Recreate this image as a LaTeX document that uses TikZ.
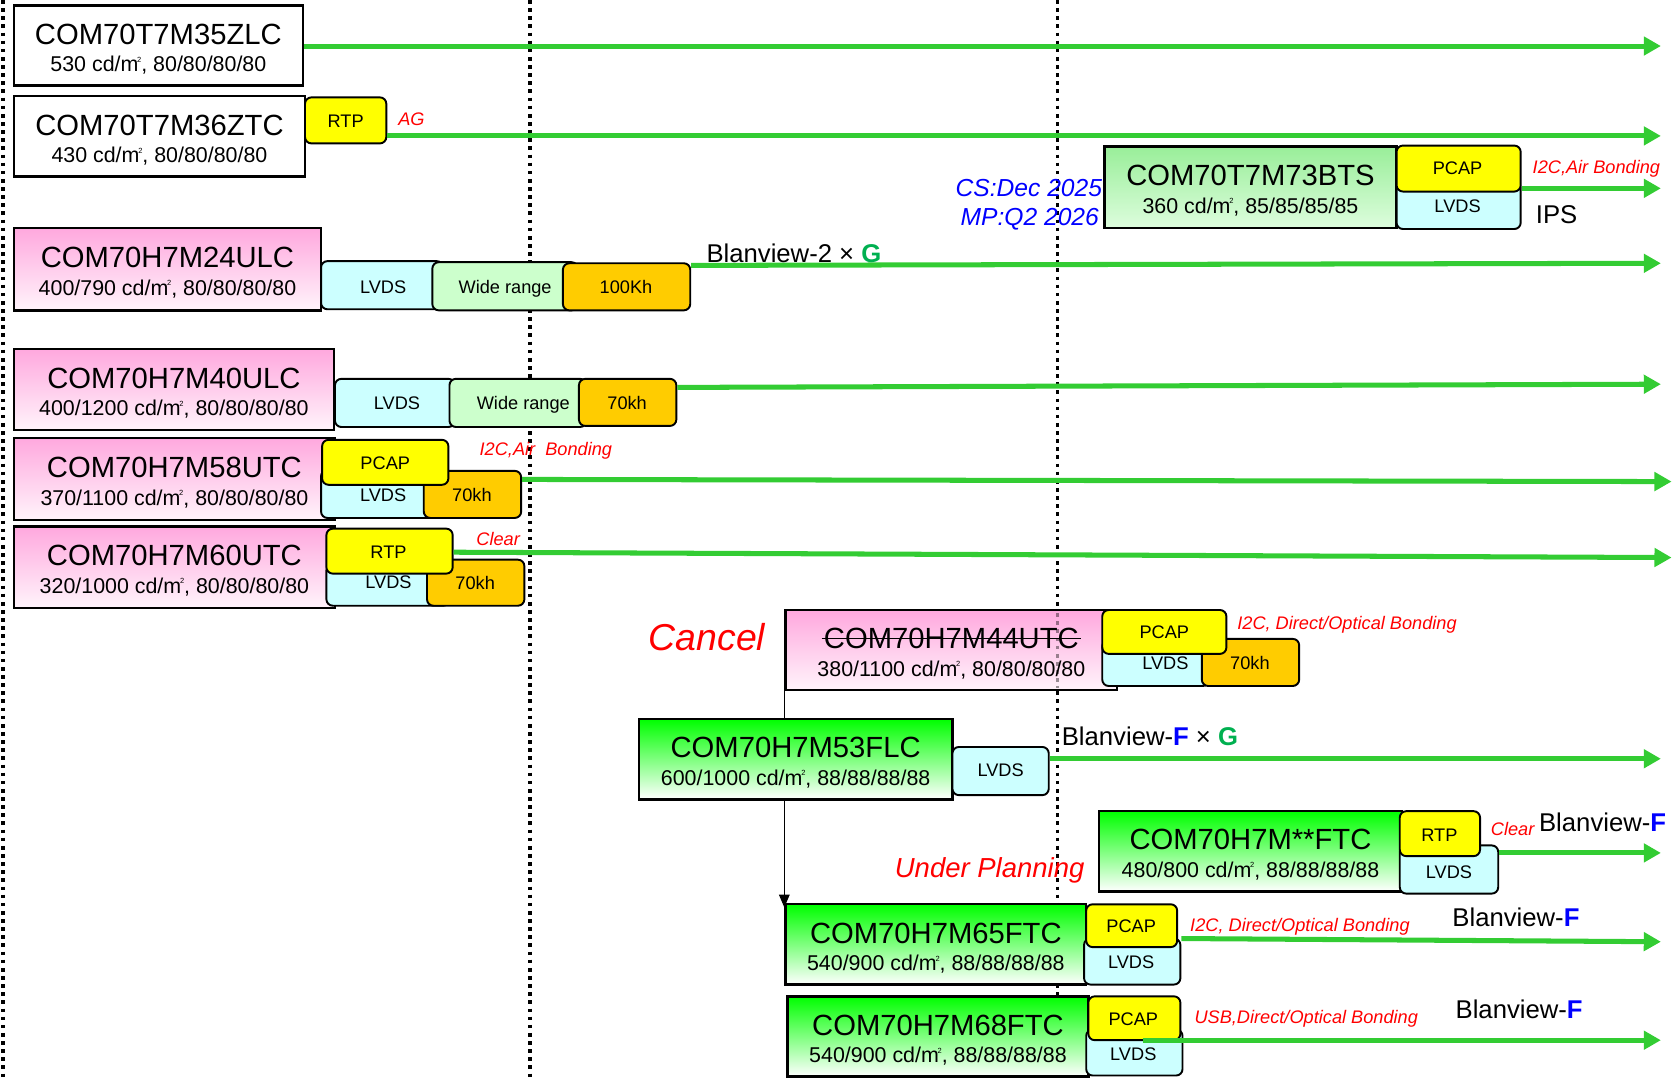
\documentclass[tikz,border=0pt]{standalone}
\usepackage{fontspec}
\setmainfont{Liberation Sans}
\usetikzlibrary{arrows.meta,calc,fit}
\definecolor{lgreen}{HTML}{33CC33}
\definecolor{tagyellow}{HTML}{FFFF00}
\definecolor{tagcyan}{HTML}{CCFFFF}
\definecolor{tagmint}{HTML}{CCFFCC}
\definecolor{tagorange}{HTML}{FFCC00}
\definecolor{pinktop}{HTML}{FFA8DE}
\definecolor{pinkbot}{HTML}{FFF4FB}
\definecolor{fgreen}{HTML}{00FF00}
\definecolor{btstop}{HTML}{99EE99}
\definecolor{btsbot}{HTML}{DDFDDD}
\definecolor{gmark}{HTML}{00B050}
\definecolor{redlbl}{HTML}{FF0000}
\definecolor{bluelbl}{HTML}{0000FF}
\newcommand{\sqmeter}{m\kern-0.06em\raisebox{0.45em}{\fontsize{7}{7}\selectfont 2}}
\newcommand{\prodbox}[8]{%
  \node[prodbase,#2,fit={(#3,#4) (#5,#6)}] (#1) {};
  \node[titletext] (#1-t) at ($(#1.center)+(0,-1.3)$) {#7};
  \node[subtext] (#1-s) at ($(#1.center)+(0,24.5)$) {#8};}
\newcommand{\tagbox}[9]{%
  \node[tagbase,fill=#2,fit={(#3,#4) (#5,#6)}] (#1) {};
  \node[tagtext] (#1-t) at (#7,#8) {#9};}
\begin{document}
\begin{tikzpicture}[x=1pt,y=-1pt,
  prodbase/.style={draw=black, line width=2.2pt, inner sep=0pt},
  whitebox/.style={fill=white},
  pinkbox/.style={top color=pinktop, bottom color=pinkbot},
  greenbox/.style={top color=fgreen, bottom color=white},
  btsbox/.style={top color=btstop, bottom color=btsbot},
  tagbase/.style={draw=black, line width=1.8pt, rounded corners=6pt, inner sep=0pt},
  tagtext/.style={inner sep=0pt, anchor=base, font=\fontsize{17}{20}\selectfont},
  titletext/.style={inner sep=0pt, anchor=base, font=\fontsize{27.3}{30}\selectfont},
  subtext/.style={inner sep=0pt, anchor=base, font=\fontsize{20}{22}\selectfont},
  redlab/.style={inner sep=0pt, anchor=base west, text=redlbl, font=\fontsize{17}{20}\selectfont\itshape},
  bluelab/.style={inner sep=0pt, anchor=base east, text=bluelbl, font=\fontsize{23}{26}\selectfont\itshape},
  bigblack/.style={inner sep=0pt, anchor=base west, font=\fontsize{24}{28}\selectfont},
  garrow/.style={draw=lgreen, line width=4.7pt, -{Triangle[length=16pt,width=17pt]}},
  thinarrow/.style={draw=black, line width=1pt, -{Triangle[length=12pt,width=10pt]}},
  dotline/.style={draw=black, line width=3.4pt, dash pattern=on 3.4pt off 4.2pt},
]
\useasboundingbox (0,0) rectangle (1568,1010);
% dotted time separators
\coordinate (d1a) at (3,0); \coordinate (d1b) at (3,1010);
\coordinate (d2a) at (495,0); \coordinate (d2b) at (495,1010);
\coordinate (d3a) at (988,0); \coordinate (d3b) at (988,1010);
\draw[dotline] (d1a) -- (d1b);
\draw[dotline] (d2a) -- (d2b);
\draw[dotline] (d3a) -- (d3b);

% row 1
\prodbox{p35}{whitebox}{13}{5}{283}{80}{COM70T7M35ZLC}{530 cd/\sqmeter, 80/80/80/80}
% row 2
\prodbox{p36}{whitebox}{13}{90}{285}{165}{COM70T7M36ZTC}{430 cd/\sqmeter, 80/80/80/80}
\tagbox{rtp36}{tagyellow}{285}{91}{361}{134}{323}{119}{RTP}
% 73BTS
\prodbox{p73}{btsbox}{1032}{137}{1305}{213}{COM70T7M73BTS}{360 cd/\sqmeter, 85/85/85/85}
\tagbox{lv73}{tagcyan}{1305}{170}{1421}{214}{1362}{199}{LVDS}
\tagbox{pc73}{tagyellow}{1305}{136}{1421}{179}{1362}{163}{PCAP}
% 24ULC
\prodbox{p24}{pinkbox}{13}{213}{300}{290}{COM70H7M24ULC}{400/790 cd/\sqmeter, 80/80/80/80}
\tagbox{lv24}{tagcyan}{300}{244}{414}{289}{358}{274}{LVDS}
\tagbox{wr24}{tagmint}{404}{245}{540}{290}{472}{274}{Wide range}
\tagbox{kh24}{tagorange}{526}{246}{645}{290}{585}{274}{100Kh}
% 40ULC
\prodbox{p40}{pinkbox}{13}{326}{312}{402}{COM70H7M40ULC}{400/1200 cd/\sqmeter, 80/80/80/80}
\tagbox{lv40}{tagcyan}{313}{354}{425}{399}{371}{383}{LVDS}
\tagbox{wr40}{tagmint}{420}{354}{548}{399}{489}{383}{Wide range}
\tagbox{kh40}{tagorange}{541}{354}{632}{398}{586}{383}{70kh}
% 58UTC
\prodbox{p58}{pinkbox}{13}{409}{313}{486}{COM70H7M58UTC}{370/1100 cd/\sqmeter, 80/80/80/80}
\tagbox{lv58}{tagcyan}{300}{439}{420}{484}{358}{469}{LVDS}
\tagbox{kh58}{tagorange}{396}{440}{487}{484}{441}{469}{70kh}
\tagbox{pc58}{tagyellow}{301}{411}{419}{453}{360}{439}{PCAP}
% 60UTC
\prodbox{p60}{pinkbox}{13}{492}{313}{568}{COM70H7M60UTC}{320/1000 cd/\sqmeter, 80/80/80/80}
\tagbox{lv60}{tagcyan}{305}{527}{420}{566}{363}{550}{LVDS}
\tagbox{kh60}{tagorange}{399}{523}{490}{566}{444}{551}{70kh}
\tagbox{rtp60}{tagyellow}{305}{494}{423}{536}{363}{522}{RTP}
% 44UTC (cancelled)
\prodbox{p44}{pinkbox}{734}{570}{1044}{645}{COM70H7M44UTC}{380/1100 cd/\sqmeter, 80/80/80/80}
\draw[line width=1.5pt] ([xshift=-2pt]p44-t.west) -- ([xshift=2pt]p44-t.east);
\coordinate (d3c) at (988,573); \coordinate (d3d) at (988,643);
\draw[dotline, opacity=0.4] (d3c) -- (d3d);
\tagbox{lv44}{tagcyan}{1030}{598}{1130}{641}{1089}{626}{LVDS}
\tagbox{kh44}{tagorange}{1123}{597}{1214}{641}{1168}{626}{70kh}
\tagbox{pc44}{tagyellow}{1030}{570}{1146}{611}{1088}{597}{PCAP}
% 65FTC
\prodbox{p65}{greenbox}{734}{845}{1015}{920}{COM70H7M65FTC}{540/900 cd/\sqmeter, 88/88/88/88}
\tagbox{lv65}{tagcyan}{1013}{877}{1103}{920}{1057}{905}{LVDS}
\tagbox{pc65}{tagyellow}{1015}{845}{1100}{885}{1057}{871}{PCAP}
% thin arrow 44 -> 65
\draw[thinarrow] (p44.south west) -- ([yshift=-4pt]p65.north west);
% 53FLC
\prodbox{p53}{greenbox}{597}{672}{890}{747}{COM70H7M53FLC}{600/1000 cd/\sqmeter, 88/88/88/88}
\tagbox{lv53}{tagcyan}{890}{698}{980}{743}{935}{726}{LVDS}
% **FTC
\prodbox{pff}{greenbox}{1027}{758}{1310}{833}{COM70H7M**FTC}{480/800 cd/\sqmeter, 88/88/88/88}
\tagbox{lvff}{tagcyan}{1308}{790}{1400}{835}{1354}{821}{LVDS}
\tagbox{rtpff}{tagyellow}{1308}{758}{1383}{800}{1345}{786}{RTP}
% 68FTC
\prodbox{p68}{greenbox}{736}{931}{1017}{1006}{COM70H7M68FTC}{540/900 cd/\sqmeter, 88/88/88/88}
\tagbox{lv68}{tagcyan}{1015}{962}{1105}{1005}{1059}{991}{LVDS}
\tagbox{pc68}{tagyellow}{1017}{931}{1103}{972}{1059}{958}{PCAP}

% green timeline arrows
\coordinate (eA) at (1552,43); \draw[garrow] (p35.east |- eA) -- (eA);
\coordinate (eB) at (1552,127); \draw[garrow] (rtp36.east |- eB) -- (eB);
\coordinate (eC) at (1552,176); \draw[garrow] (pc73.east |- eC) -- (eC);
\coordinate (sD) at (0,248); \coordinate (eD) at (1552,246); \draw[garrow] (kh24.east |- sD) -- (eD);
\coordinate (sE) at (0,362); \coordinate (eE) at (1552,359); \draw[garrow] (kh40.east |- sE) -- (eE);
\coordinate (sF) at (0,448); \coordinate (eF) at (1562,450); \draw[garrow] (kh58.east |- sF) -- (eF);
\coordinate (sG) at (0,516); \coordinate (eG) at (1562,521); \draw[garrow] (rtp60.east |- sG) -- (eG);
\coordinate (e53) at (1552,709); \draw[garrow] (lv53.east |- e53) -- (e53);
\coordinate (eff) at (1552,797); \draw[garrow] (lvff.east |- eff) -- (eff);
\coordinate (s65) at (0,877); \coordinate (e65) at (1552,880); \draw[garrow] (lv65.east |- s65) -- (e65);
\coordinate (s68) at (1068,972); \coordinate (e68) at (1552,972); \draw[garrow] (s68) -- (e68);

% labels
\node[redlab] (lAG) at (372,117) {AG};
\node[redlab] (l73) at (1432,162) {I2C,Air Bonding};
\node[redlab] (l58) at (448,426) {I2C,Air\ \ Bonding};
\node[redlab] (l60) at (445,510) {Clear};
\node[redlab] (l44) at (1156,588) {I2C, Direct/Optical Bonding};
\node[redlab] (lff) at (1393,781) {Clear};
\node[redlab] (l65) at (1112,870) {I2C, Direct/Optical Bonding};
\node[redlab] (l68) at (1116,956) {USB,Direct/Optical Bonding};
\node[bluelab] (cs) at (1030,184) {CS:Dec 2025};
\node[bluelab] (mp) at (1027,211) {MP:Q2 2026};
\node[bigblack] (ips) at (1435,209) {IPS};
\node[bigblack] (bv24) at (660,245) {Blanview-2 × {\bfseries\color{gmark}G}};
\node[bigblack] (bv53) at (992,697) {Blanview-{\bfseries\color{bluelbl}F} × {\bfseries\color{gmark}G}};
\node[bigblack] (bvff) at (1438,777) {Blanview-{\bfseries\color{bluelbl}F}};
\node[bigblack] (bv65) at (1357,866) {Blanview-{\bfseries\color{bluelbl}F}};
\node[bigblack] (bv68) at (1360,952) {Blanview-{\bfseries\color{bluelbl}F}};
\node[inner sep=0pt, anchor=base west, text=redlbl, font=\fontsize{35}{40}\selectfont\itshape] (cancel) at (606,608) {Cancel};
\node[inner sep=0pt, anchor=base west, text=redlbl, font=\fontsize{25.7}{30}\selectfont\itshape] (plan) at (836,820) {Under Planning};
\end{tikzpicture}
\end{document}
